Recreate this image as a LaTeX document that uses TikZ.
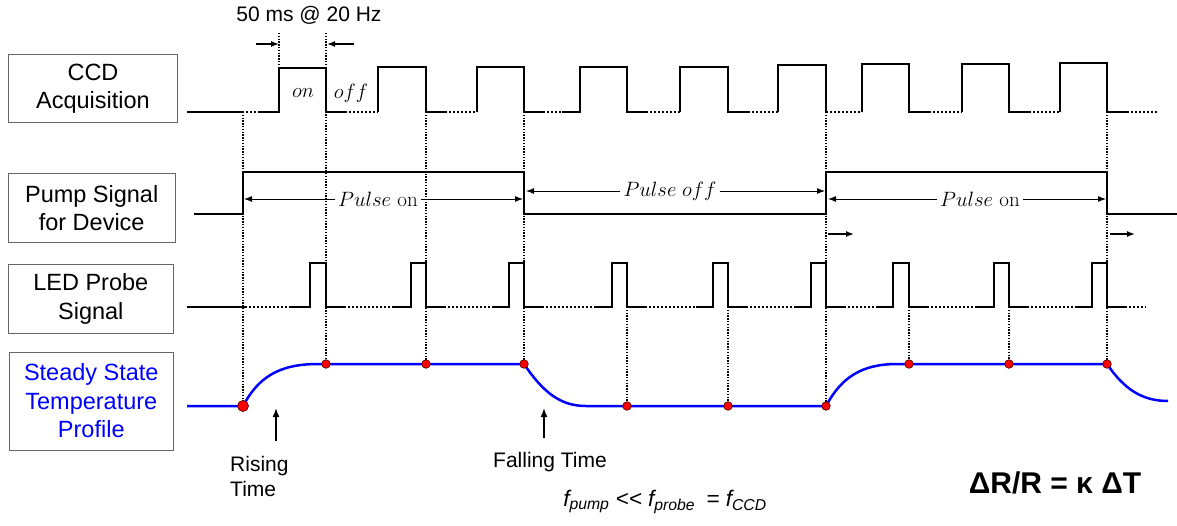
\documentclass[tikz,border=0pt]{standalone}
\usepackage{fontspec}
\newfontfamily\sans{Liberation Sans}
\usetikzlibrary{arrows.meta}
\tikzset{
  wave/.style={line width=2.3pt, line join=miter},
  wavedot/.style={line width=2.3pt, dash pattern=on 2pt off 2pt},
  guide/.style={line width=1.4pt, dash pattern=on 1.4pt off 1.4pt},
  temp/.style={blue, line width=2.5pt},
  lbl/.style={draw=black!60, line width=1pt, inner sep=0pt, align=center,
    font=\sans\fontsize{23.5}{28.5}\selectfont},
  ptext/.style={inner sep=3pt, font=\fontsize{21}{25}\selectfont},
  arr/.style={-{Latex[length=8pt,width=6pt]}, line width=1pt},
  sarr/.style={-{Latex[length=8pt,width=6pt]}, line width=1.4pt},
  uparr/.style={-{Latex[length=9pt,width=7pt]}, line width=1.6pt},
  dotS/.style={circle, fill=red, draw=red!35!black, line width=0.7pt, inner sep=0pt, minimum size=8.5pt},
  dotB/.style={dotS, minimum size=11pt},
  note/.style={inner sep=0pt, font=\sans\fontsize{21}{25}\selectfont},
}
\begin{document}
\begin{tikzpicture}[x=1pt,y=-1pt]
\fill[white] (0,0) rectangle (1177,525);
\useasboundingbox (0,0) rectangle (1177,525);

% ---- vertical guide lines
\foreach \x/\a/\b in {243/112/406, 279/33/68, 326/33/364, 426/112/364, 524/112/364,
  627/307/406, 728/307/406, 826/112/406, 909/307/364, 1009/307/364, 1107/112/364}
  \draw[guide] (\x,\a) -- (\x,\b);

% ---- labels
\node[lbl, minimum width=169pt, minimum height=68pt] (ccd) at (93,88.5) {CCD\\Acquisition};
\node[lbl, minimum width=167pt, minimum height=69pt] (pump) at (91.7,208) {Pump Signal\\for Device};
\node[lbl, minimum width=165pt, minimum height=69pt] (led) at (90.8,299) {LED Probe\\Signal};
\node[lbl, text=blue, minimum width=164pt, minimum height=98pt] (temp) at (91.3,401) {Steady State\\Temperature\\Profile};

% ---- CCD acquisition
\draw[wave] (187,112) -- (242,112);
\draw[wavedot] (242,112) -- (258,112);
\draw[wave] (258,112) -- (279,112) |- (326,68) -- (326,112) -- (345,112);
\draw[wavedot] (345,112) -- (378,112);
\draw[wave] (378,112) |- (426,67) -- (426,112) -- (445,112);
\draw[wavedot] (445,112) -- (477,112);
\draw[wave] (477,112) |- (524,67) -- (524,112) -- (543,112);
\draw[wavedot] (543,112) -- (562,112);
\draw[wave] (562,112) -- (580,112) |- (627,67) -- (627,112) -- (646,112);
\draw[wavedot] (646,112) -- (680,112);
\draw[wave] (680,112) |- (728,67) -- (728,112) -- (748,112);
\draw[wavedot] (748,112) -- (778,112);
\draw[wave] (778,112) |- (826,65) -- (826,112);
\draw[wavedot] (826,112) -- (862,112);
\draw[wave] (862,112) |- (909,64) -- (909,112) -- (929,112);
\draw[wavedot] (929,112) -- (962,112);
\draw[wave] (962,112) |- (1009,64) -- (1009,112) -- (1029,112);
\draw[wavedot] (1029,112) -- (1060,112);
\draw[wave] (1060,112) |- (1107,63) -- (1107,112) -- (1127,112);
\draw[wavedot] (1127,112) -- (1158,112);

% on / off and period marker
\node[inner sep=0pt, font=\fontsize{21}{25}\selectfont] (on) at (303,93) {$on$};
\node[inner sep=0pt, font=\fontsize{21}{25}\selectfont] (off) at (351,93) {$off$};
\node[note] (period) at (309,15) {50 ms @ 20 Hz};
\coordinate (pa1) at (256,44); \coordinate (pa2) at (279,44);
\coordinate (pb1) at (354,44); \coordinate (pb2) at (327,44);
\draw[sarr] (pa1) -- (pa2);
\draw[sarr] (pb1) -- (pb2);

% ---- Pump signal
\draw[wave] (194,214) -- (243,214) |- (524,172) -- (524,214) -- (826,214) |- (1107,172) -- (1107,214) -- (1177,214);

\node[ptext] (pon1) at (378,199) {$Pulse$ on};
\coordinate (pon1L) at (244,199); \coordinate (pon1R) at (523,199);
\draw[arr] (pon1.west) -- (pon1L);
\draw[arr] (pon1.east) -- (pon1R);

\node[ptext] (poff) at (670,191) {$Pulse\;off$};
\coordinate (poffL) at (526,191); \coordinate (poffR) at (825,191);
\draw[arr] (poff.west) -- (poffL);
\draw[arr] (poff.east) -- (poffR);

\node[ptext] (pon2) at (980,199) {$Pulse$ on};
\coordinate (pon2L) at (828,199); \coordinate (pon2R) at (1106,199);
\draw[arr] (pon2.west) -- (pon2L);
\draw[arr] (pon2.east) -- (pon2R);

\coordinate (sa1) at (828,234); \coordinate (sa2) at (854,234);
\coordinate (sb1) at (1110,234); \coordinate (sb2) at (1135,234);
\draw[sarr] (sa1) -- (sa2);
\draw[sarr] (sb1) -- (sb2);

% ---- LED probe
\draw[wave] (187,307) -- (245,307);
\draw[wavedot] (245,307) -- (290,307);
\draw[wave] (290,307) -- (310,307) |- (326,263) -- (326,307) -- (344,307);
\foreach \pr/\r/\f in {326/411/426, 426/509/524, 524/612/627, 627/713/728,
   728/811/826, 826/893/909, 909/994/1009, 1009/1092/1107} {
  \draw[wavedot] (\pr+18,307) -- (\r-17,307);
  \draw[wave] (\r-17,307) -- (\r,307) |- (\f,263) -- (\f,307) -- (\f+18,307);
}
\draw[wavedot] (1125,307) -- (1146,307);

% ---- Temperature profile
\draw[temp] (187,406) -- (243,406)
  .. controls (258,378) and (278,364) .. (318,364)
  -- (524,364)
  .. controls (543,392) and (560,406) .. (586,406)
  -- (826,406)
  .. controls (841,378) and (861,364) .. (897,364)
  -- (1107,364)
  .. controls (1124,389) and (1142,401) .. (1168,401);

\node[dotB] (d0) at (243,406) {};
\node[dotS] (d1) at (326,364) {};
\node[dotS] (d2) at (426,364) {};
\node[dotS] (d3) at (524,364) {};
\node[dotS] (d4) at (627,406) {};
\node[dotS] (d5) at (728,406) {};
\node[dotS] (d6) at (826,406) {};
\node[dotS] (d7) at (909,364) {};
\node[dotS] (d8) at (1009,364) {};
\node[dotS] (d9) at (1107,364) {};

% ---- annotations
\coordinate (ra1) at (276,441); \coordinate (ra2) at (276,408);
\draw[uparr] (ra1) -- (ra2);
\node[note, align=left, anchor=west] (rise) at (230,476) {Rising\\Time};
\coordinate (fa1) at (544,438); \coordinate (fa2) at (544,408);
\draw[uparr] (fa1) -- (fa2);
\node[note] (fall) at (550,462) {Falling Time};

\node[inner sep=0pt, font=\sans\itshape\fontsize{22.5}{27}\selectfont] (freq) at (665,502)
  {f\textsubscript{pump} <\kern0pt< f\textsubscript{probe}\hspace{0.5em}= f\textsubscript{CCD}};
\node[inner sep=0pt, font=\sans\bfseries\fontsize{30}{36}\selectfont] (eq) at (1055,483)
  {ΔR/R = κ ΔT};
\end{tikzpicture}
\end{document}
